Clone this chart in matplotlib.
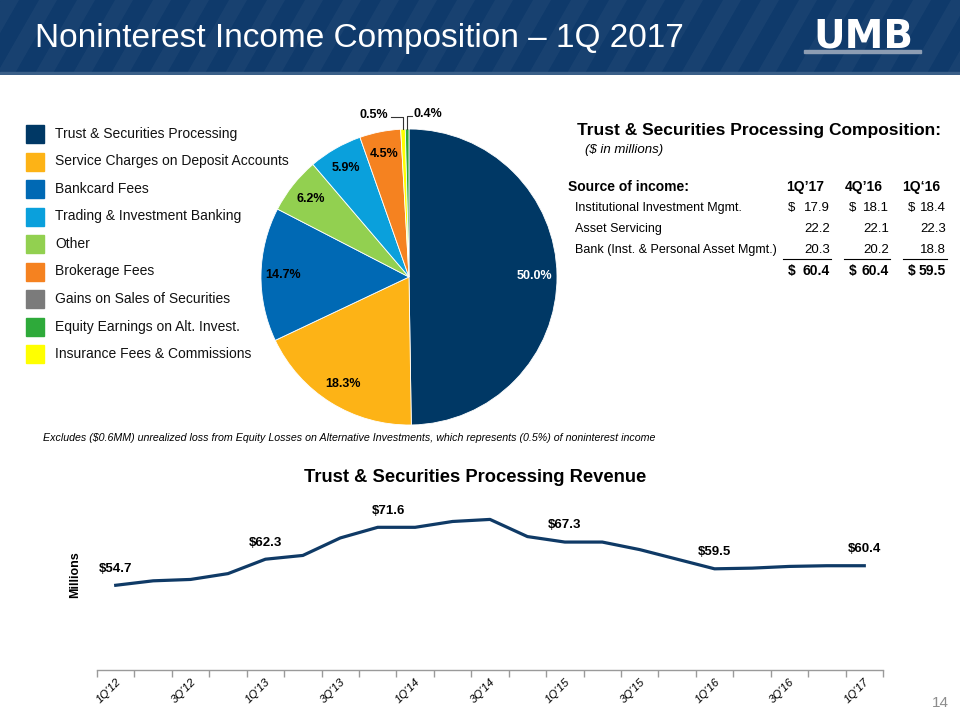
import numpy as np
import matplotlib
matplotlib.use("Agg")
import matplotlib.pyplot as plt
from matplotlib.patches import Rectangle, Polygon

plt.rcParams['font.family'] = ['Liberation Sans', 'DejaVu Sans']

# --- data ---
title = "Noninterest Income Composition \u2013 1Q 2017"

legend_labels = ["Trust & Securities Processing", "Service Charges on Deposit Accounts",
                 "Bankcard Fees", "Trading & Investment Banking", "Other", "Brokerage Fees",
                 "Gains on Sales of Securities", "Equity Earnings on Alt. Invest.",
                 "Insurance Fees & Commissions"]
legend_colors = ["#003865", "#FDB316", "#0069B4", "#0AA0DC", "#92D050", "#F58220",
                 "#7B7B7B", "#2EAA3A", "#FFFF00"]

# pie slices, clockwise from 12 o'clock
pie_names = ["Trust & Securities Processing", "Service Charges on Deposit Accounts",
             "Bankcard Fees", "Other", "Trading & Investment Banking", "Brokerage Fees",
             "Insurance Fees & Commissions", "Equity Earnings on Alt. Invest."]
pie_values = [50.0, 18.3, 14.7, 6.2, 5.9, 4.5, 0.5, 0.4]

tbl_cols = ["1Q\u201917", "4Q\u201916", "1Q\u201816"]
tbl_rows = ["Institutional Investment Mgmt.", "Asset Servicing", "Bank (Inst. & Personal Asset Mgmt.)"]
tbl_vals = [[17.9, 18.1, 18.4],
            [22.2, 22.1, 22.3],
            [20.3, 20.2, 18.8]]
tbl_totals = [60.4, 60.4, 59.5]

quarters = ["1Q'12", "2Q'12", "3Q'12", "4Q'12", "1Q'13", "2Q'13", "3Q'13", "4Q'13",
            "1Q'14", "2Q'14", "3Q'14", "4Q'14", "1Q'15", "2Q'15", "3Q'15", "4Q'15",
            "1Q'16", "2Q'16", "3Q'16", "4Q'16", "1Q'17"]
revenue = [54.7, 56.0, 56.4, 58.1, 62.3, 63.4, 68.5, 71.6, 71.6, 73.3, 73.9, 68.9,
           67.3, 67.3, 65.1, 62.3, 59.5, 59.7, 60.2, 60.4, 60.4]
labeled_idx = [0, 4, 7, 12, 16, 20]

footnote = ("Excludes ($0.6MM) unrealized loss from Equity Losses on Alternative Investments, "
            "which represents (0.5%) of noninterest income")

W, H = 960, 720
fig = plt.figure(figsize=(9.6, 7.2), dpi=100)
fig.patch.set_facecolor("white")


def fx(x):
    return x / W


def fy(y):
    return 1 - y / H


# --- header band ---
hdr = fig.add_axes([0, fy(75), 1, 75 / H])
hdr.set_xlim(0, W)
hdr.set_ylim(75, 0)
hdr.axis("off")
hdr.add_patch(Rectangle((0, 0), W, 75, color="#0f3a6b"))
for x0 in np.arange(-80, W + 40, 38):
    hdr.add_patch(Polygon([(x0, 75), (x0 + 18, 75), (x0 + 18 + 43, 0), (x0 + 43, 0)],
                          closed=True, color="white", alpha=0.04, lw=0))
hdr.add_patch(Rectangle((0, 72), W, 3, color="#3a5f88"))
hdr.text(35, 39, title, color="white", fontsize=24, va="center", ha="left")
hdr.text(863, 37, "UMB", color="white", fontsize=28, fontweight="heavy", va="center",
         ha="center", family=["DejaVu Sans"])
hdr.add_patch(Rectangle((804, 50), 117, 2.5, color="#8d9db3"))

# --- legend ---
for i, (lab, col) in enumerate(zip(legend_labels, legend_colors)):
    yc = 134 + i * 27.5
    fig.patches.append(Rectangle((fx(26), fy(yc + 9)), 18 / W, 18 / H, color=col,
                                 transform=fig.transFigure, figure=fig))
    fig.text(fx(55), fy(yc), lab, fontsize=10, va="center", ha="left", color="#111111")

# --- pie ---
cx, cy, r = 409, 277, 148
pax = fig.add_axes([fx(cx - r), fy(cy + r), 2 * r / W, 2 * r / H])
pie_colors = [legend_colors[legend_labels.index(n)] for n in pie_names]
wedges, _ = pax.pie(pie_values, colors=pie_colors, startangle=90, counterclock=False,
                    radius=1.0, wedgeprops=dict(linewidth=0.6, edgecolor="white"))
pax.set_xlim(-1, 1)
pax.set_ylim(-1, 1)
pax.set_aspect("auto")
pax.axis("off")
for i, (w, v) in enumerate(zip(wedges, pie_values)):
    ang = np.deg2rad((w.theta1 + w.theta2) / 2)
    lab = f"{v:.1f}%"
    if v >= 1:
        d = 0.85
        pax.text(d * np.cos(ang), d * np.sin(ang), lab, ha="center", va="center",
                 fontsize=9, fontweight="bold", color="white" if i == 0 else "black")
    else:
        ex, ey = np.cos(ang), np.sin(ang)
        if i == 6:
            tx = ex - 0.1
            pax.plot([ex, ex, tx + 0.02], [ey, ey + 0.08, ey + 0.08], color="#333333", lw=0.8,
                     clip_on=False)
            pax.text(tx, ey + 0.095, lab, ha="right", va="center", fontsize=9,
                     fontweight="bold", clip_on=False)
        else:
            tx = ex + 0.035
            pax.plot([ex, ex, tx], [ey, ey + 0.09, ey + 0.09], color="#333333", lw=0.8,
                     clip_on=False)
            pax.text(tx + 0.005, ey + 0.1, lab, ha="left", va="center", fontsize=9,
                     fontweight="bold", clip_on=False)

# --- table ---
fig.text(fx(577), fy(131), "Trust & Securities Processing Composition:", fontsize=12.5,
         fontweight="bold", va="center", ha="left")
fig.text(fx(585), fy(150), "($ in millions)", fontsize=9.5, style="italic",
         va="center", ha="left")
fig.text(fx(568), fy(187), "Source of income:", fontsize=10, fontweight="bold",
         va="center", ha="left")
col_right = [830, 889, 946]
dollar_x = [788, 849, 908]
for c, name in enumerate(tbl_cols):
    fig.text(fx(col_right[c] - 6), fy(187), name, fontsize=10, fontweight="bold",
             va="center", ha="right")
for rr, rname in enumerate(tbl_rows):
    yy = 208 + rr * 21
    fig.text(fx(575), fy(yy), rname, fontsize=9, va="center", ha="left")
    for c in range(3):
        fig.text(fx(col_right[c]), fy(yy), f"{tbl_vals[rr][c]:.1f}", fontsize=9.5,
                 va="center", ha="right")
        if rr == 0:
            fig.text(fx(dollar_x[c]), fy(yy), "$", fontsize=9.5, va="center", ha="left")
for c in range(3):
    x0 = dollar_x[c] - 5
    fig.lines.append(plt.Line2D([fx(x0), fx(col_right[c] + 1)], [fy(259), fy(259)],
                                transform=fig.transFigure, color="black", lw=0.8))
    fig.text(fx(col_right[c]), fy(271), f"{tbl_totals[c]:.1f}", fontsize=10,
             fontweight="bold", va="center", ha="right")
    fig.text(fx(dollar_x[c]), fy(271), "$", fontsize=10, fontweight="bold",
             va="center", ha="left")

# --- footnote ---
fig.text(fx(43), fy(438), footnote, fontsize=7.7, style="italic", va="center", ha="left")

# --- revenue line chart ---
fig.text(fx(475), fy(478), "Trust & Securities Processing Revenue", fontsize=13.2,
         fontweight="bold", va="center", ha="center")
lax = fig.add_axes([fx(97), fy(670), (883 - 97) / W, (670 - 498.5) / H])
x = np.arange(len(quarters))
lax.plot(x, revenue, color="#0f3a66", lw=2.3, solid_joinstyle="round")
lax.set_xlim(-0.5, len(quarters) - 0.5)
lax.set_ylim(30, 80)
for s in ["top", "right", "left"]:
    lax.spines[s].set_visible(False)
lax.spines["bottom"].set_color("#9a9a9a")
lax.spines["bottom"].set_linewidth(1.0)
lax.set_yticks([])
lax.set_xticks(x[::2])
lax.set_xticklabels(quarters[::2], rotation=45, ha="right", rotation_mode="anchor",
                    fontsize=8.2, style="italic")
lax.set_xticks(np.arange(-0.5, len(quarters)), minor=True)
lax.tick_params(axis="x", which="major", length=0, pad=5)
lax.tick_params(axis="x", which="minor", length=5, color="#9a9a9a", width=1.0)
for i in labeled_idx:
    dx = 8 if i == 7 else 0
    lax.annotate(f"${revenue[i]:.1f}", (x[i], revenue[i]), xytext=(dx, 12),
                 textcoords="offset points", ha="center", va="center", fontsize=9.5,
                 fontweight="bold")
fig.text(fx(75), fy(575), "Millions", rotation=90, fontsize=9, fontweight="bold",
         va="center", ha="center")

fig.text(fx(940), fy(703), "14", fontsize=11, color="#8c8c8c", va="center", ha="center")

fig.savefig("out.png", dpi=100)
